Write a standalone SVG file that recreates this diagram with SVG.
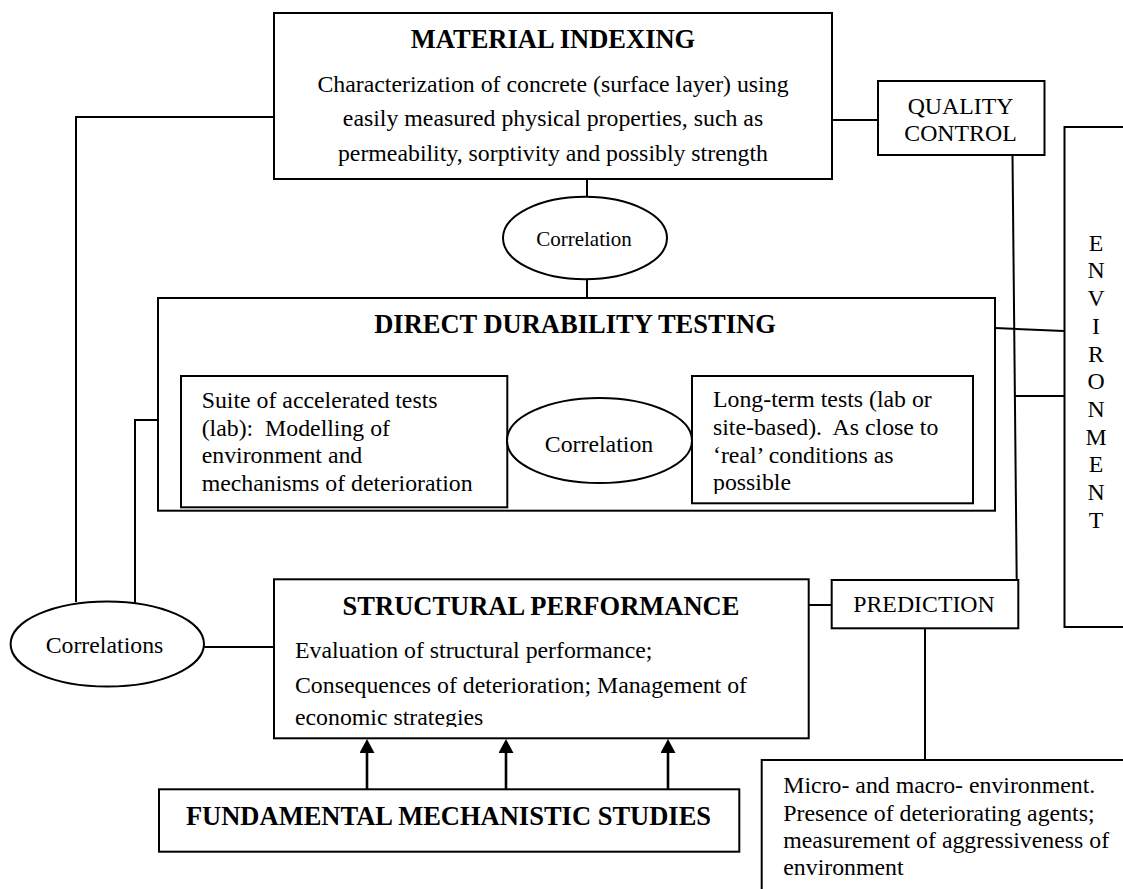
<svg xmlns="http://www.w3.org/2000/svg" width="1123" height="889" viewBox="0 0 1123 889">
<style>
  .box { fill: #fff; stroke: #000; stroke-width: 2; }
  .ell { fill: #fff; stroke: #000; stroke-width: 2; }
  .ln { fill: none; stroke: #000; stroke-width: 2; }
  .arr { fill: none; stroke: #000; stroke-width: 2.6; }
  .t { font-family: "Liberation Serif", "Times New Roman", serif; font-size: 23.8px; fill: #000; white-space: pre; }
  .tb { font-family: "Liberation Serif", "Times New Roman", serif; font-size: 26.5px; font-weight: bold; fill: #000; }
  .ts { font-family: "Liberation Serif", "Times New Roman", serif; font-size: 21px; fill: #000; }
  .mid { text-anchor: middle; }
</style>
<defs>
  <marker id="ah" viewBox="0 0 14 15" refX="8" refY="7.5" markerWidth="14" markerHeight="15" markerUnits="userSpaceOnUse" orient="auto">
    <path d="M0,0 L14,7.5 L0,15 z" fill="#000"/>
  </marker>
  <clipPath id="spclip"><rect x="274" y="579" width="535" height="148"/></clipPath>
  <clipPath id="ltclip"><rect x="692" y="376" width="281" height="118"/></clipPath>
</defs>
<rect width="1123" height="889" fill="#fff"/>

<g id="connectors">
  <polyline class="ln" points="274,117 76,117 76,602"/>
  <line class="ln" x1="832" y1="120" x2="878" y2="120"/>
  <line class="ln" x1="587" y1="179" x2="587" y2="197"/>
  <line class="ln" x1="587" y1="279" x2="587" y2="298"/>
  <polyline class="ln" points="158,420 135,420 135,603"/>
  <line class="ln" x1="204" y1="647" x2="274" y2="647"/>
  <line class="ln" x1="1012.5" y1="155" x2="1016.7" y2="580"/>
  <line class="ln" x1="995" y1="328" x2="1064" y2="331"/>
  <line class="ln" x1="1014.9" y1="396" x2="1064" y2="396"/>
  <line class="ln" x1="809" y1="605" x2="832" y2="605"/>
  <line class="ln" x1="925" y1="628" x2="925" y2="760"/>
  <line class="arr" x1="367" y1="789" x2="367" y2="745" marker-end="url(#ah)"/>
  <line class="arr" x1="506" y1="789" x2="506" y2="745" marker-end="url(#ah)"/>
  <line class="arr" x1="668" y1="789" x2="668" y2="745" marker-end="url(#ah)"/>
</g>

<g id="material-indexing">
  <rect class="box" x="274" y="13" width="558" height="166"/>
  <text class="tb mid" x="553" y="48">MATERIAL INDEXING</text>
  <text class="t mid" x="553" y="91.5">Characterization of concrete (surface layer) using</text>
  <text class="t mid" x="553" y="126">easily measured physical properties, such as</text>
  <text class="t mid" x="553" y="160.5">permeability, sorptivity and possibly strength</text>
</g>

<g id="quality-control">
  <rect class="box" x="878" y="81" width="166.5" height="74"/>
  <text class="t mid" x="960.5" y="114">QUALITY</text>
  <text class="t mid" x="960.5" y="141">CONTROL</text>
</g>

<g id="correlation-top">
  <ellipse class="ell" cx="585" cy="238" rx="82" ry="41.3"/>
  <text class="ts mid" x="584" y="246">Correlation</text>
</g>

<g id="environment">
  <rect class="box" x="1064.5" y="127" width="90" height="500"/>
  <text class="t mid" x="1096" y="250.7">E</text>
  <text class="t mid" x="1096" y="278.4">N</text>
  <text class="t mid" x="1096" y="306.1">V</text>
  <text class="t mid" x="1096" y="333.8">I</text>
  <text class="t mid" x="1096" y="361.5">R</text>
  <text class="t mid" x="1096" y="389.2">O</text>
  <text class="t mid" x="1096" y="416.9">N</text>
  <text class="t mid" x="1096" y="444.6">M</text>
  <text class="t mid" x="1096" y="472.3">E</text>
  <text class="t mid" x="1096" y="500">N</text>
  <text class="t mid" x="1096" y="527.7">T</text>
</g>

<g id="direct-durability-testing">
  <rect class="box" x="158" y="298" width="837" height="212.7"/>
  <text class="tb mid" x="575" y="332.7">DIRECT DURABILITY TESTING</text>
</g>

<g id="accelerated-tests">
  <rect class="box" x="181" y="376" width="326.3" height="131.3"/>
  <text class="t" x="201.7" y="407.7">Suite of accelerated tests</text>
  <text class="t" x="201.7" y="435.5" xml:space="preserve">(lab):  Modelling of</text>
  <text class="t" x="201.7" y="463.3">environment and</text>
  <text class="t" x="201.7" y="491">mechanisms of deterioration</text>
</g>

<g id="correlation-middle">
  <ellipse class="ell" cx="599.5" cy="440.5" rx="92.5" ry="42.5"/>
  <text class="t mid" x="599" y="451.7">Correlation</text>
</g>

<g id="long-term-tests">
  <rect class="box" x="692" y="376" width="281" height="127.3"/>
  <g clip-path="url(#ltclip)">
    <text class="t" x="713" y="407">Long-term tests (lab or</text>
    <text class="t" x="713" y="435" xml:space="preserve">site-based).  As close to</text>
    <text class="t" x="713" y="462.7">‘real’ conditions as</text>
    <text class="t" x="713" y="490">possible</text>
  </g>
</g>

<g id="correlations-left">
  <ellipse class="ell" cx="107.3" cy="644" rx="96.7" ry="42.5"/>
  <text class="t mid" x="104.5" y="653.3">Correlations</text>
</g>

<g id="structural-performance">
  <rect class="box" x="274" y="579.3" width="534.7" height="159"/>
  <text class="tb mid" x="541" y="615">STRUCTURAL PERFORMANCE</text>
  <g clip-path="url(#spclip)">
    <text class="t" x="295" y="658.3">Evaluation of structural performance;</text>
    <text class="t" x="295" y="692.7">Consequences of deterioration; Management of</text>
    <text class="t" x="295" y="725">economic strategies</text>
  </g>
</g>

<g id="prediction">
  <rect class="box" x="831.7" y="580" width="186.6" height="48.3"/>
  <text class="t mid" x="924" y="611.7">PREDICTION</text>
</g>

<g id="fundamental-studies">
  <rect class="box" x="159" y="789.3" width="580.3" height="62.4"/>
  <text class="tb mid" x="448.5" y="825">FUNDAMENTAL MECHANISTIC STUDIES</text>
</g>

<g id="environment-description">
  <rect class="box" x="761.7" y="760" width="400" height="200"/>
  <text class="t" x="783.3" y="793.3">Micro- and macro- environment.</text>
  <text class="t" x="783.3" y="821">Presence of deteriorating agents;</text>
  <text class="t" x="783.3" y="848">measurement of aggressiveness of</text>
  <text class="t" x="783.3" y="875">environment</text>
</g>
</svg>
